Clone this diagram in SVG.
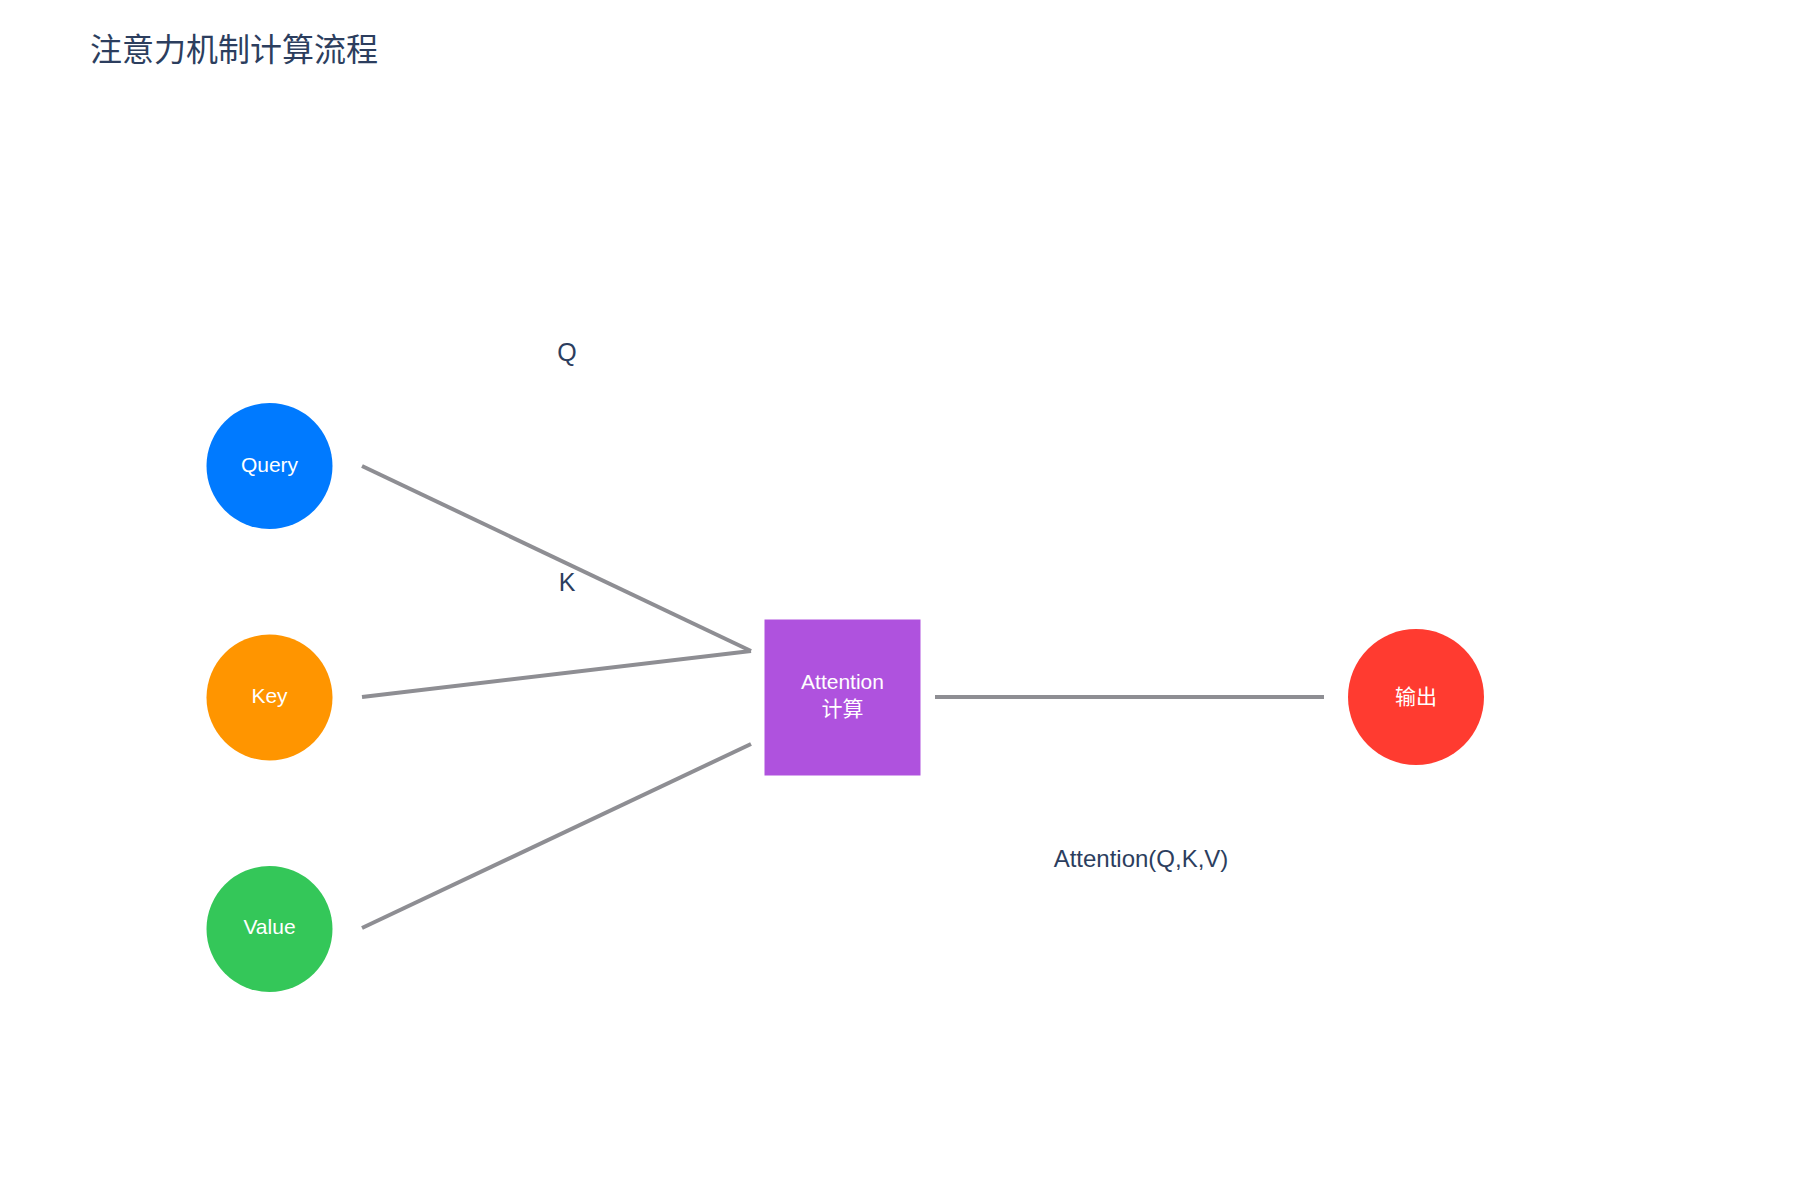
<svg xmlns="http://www.w3.org/2000/svg" width="1800" height="1200" viewBox="0 0 1800 1200">
<style>
.title{font-family:"Liberation Sans","Noto Sans CJK SC",sans-serif;font-size:32px;fill:#2c3e5e}
.lbl{font-family:"Liberation Sans","Noto Sans CJK SC",sans-serif;font-size:21px;fill:#ffffff;text-anchor:middle}
.elbl{font-family:"Liberation Sans","Noto Sans CJK SC",sans-serif;fill:#2c3e5e;text-anchor:middle}
.conn{stroke:#8e8e93;stroke-width:4;fill:none;stroke-linecap:butt}
</style>
<rect width="1800" height="1200" fill="#ffffff"/>
<text class="title" x="90" y="61">注意力机制计算流程</text>
<g id="connectors">
<line class="conn" x1="362" y1="466" x2="751" y2="651"/>
<line class="conn" x1="362" y1="697" x2="751" y2="651"/>
<line class="conn" x1="362" y1="928" x2="751" y2="744"/>
<line class="conn" x1="935" y1="697" x2="1324" y2="697"/>
<text class="elbl" x="567" y="361" font-size="25">Q</text>
<text class="elbl" x="567" y="591" font-size="25">K</text>
<text class="elbl" x="1141" y="867" font-size="24">Attention(Q,K,V)</text>
</g>
<g id="query">
<circle cx="269.5" cy="466" r="63" fill="#007aff"/>
<text class="lbl" x="269.5" y="471.5">Query</text>
</g>
<g id="key">
<circle cx="269.5" cy="697.5" r="63" fill="#ff9500"/>
<text class="lbl" x="269.5" y="703">Key</text>
</g>
<g id="value">
<circle cx="269.5" cy="929" r="63" fill="#34c759"/>
<text class="lbl" x="269.5" y="934">Value</text>
</g>
<g id="attention">
<rect x="764.5" y="619.5" width="156" height="156" fill="#af52de"/>
<text class="lbl" x="842.5" y="689" font-size="20">Attention</text>
<text class="lbl" x="842.5" y="716" font-size="20">计算</text>
</g>
<g id="output">
<circle cx="1416" cy="697" r="68" fill="#ff3b30"/>
<text class="lbl" x="1416" y="704" font-size="23">输出</text>
</g>
</svg>
